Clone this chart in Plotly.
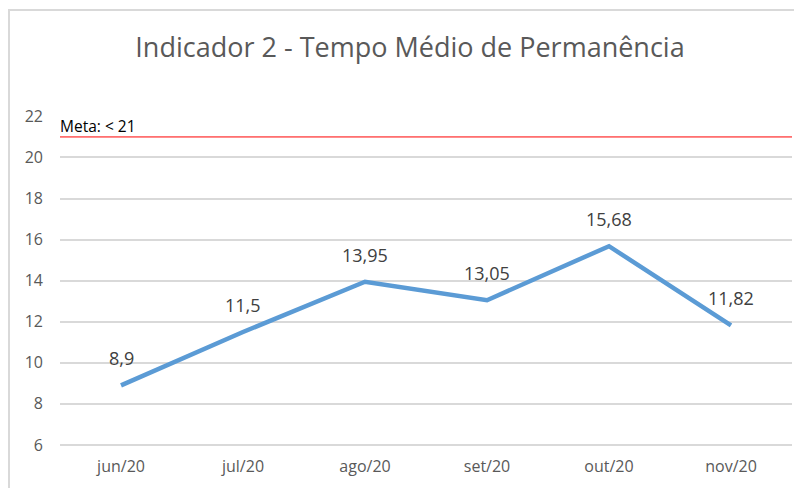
import plotly.graph_objects as go

categories = ["jun/20", "jul/20", "ago/20", "set/20", "out/20", "nov/20"]
values = [8.9, 11.5, 13.95, 13.05, 15.68, 11.82]
meta_value = 21
meta_label = "Meta: < 21"
title = "Indicador 2 - Tempo Médio de Permanência"
y_ticks = [6, 8, 10, 12, 14, 16, 18, 20, 22]

labels = [f"{v:g}".replace(".", ",") for v in values]

# page body has an 8px margin, so the figure is drawn 8px in from the top-left
W, H = 794, 480

fig = go.Figure()
fig.add_trace(go.Scatter(
    x=categories, y=values, mode="lines",
    line=dict(color="#5B9BD5", width=4.5),
    showlegend=False, hoverinfo="skip",
))

for c, v, t in zip(categories, values, labels):
    fig.add_annotation(x=c, y=v, text=t, showarrow=False, yshift=27,
                       xanchor="center", yanchor="middle",
                       font=dict(family="Open Sans", size=18, color="#404040"))

fig.add_shape(type="line", xref="paper", yref="y", x0=0, x1=1,
              y0=meta_value, y1=meta_value, line=dict(color="#FF0000", width=1))
fig.add_annotation(xref="paper", yref="y", x=0.0, y=meta_value, text=meta_label,
                   showarrow=False, xanchor="left", yanchor="bottom", yshift=-2, xshift=-2,
                   font=dict(family="Open Sans", size=15.5, color="#000000"))

# outer chart border (image is cropped at right/bottom)
plot_w = 732
plot_h = 331
fig.add_shape(type="rect", xref="paper", yref="paper",
              x0=-51 / plot_w, x1=1.1, y0=-0.3, y1=1 + 106 / plot_h,
              line=dict(color="#D9D9D9", width=2), layer="below")

fig.update_layout(
    width=W, height=H,
    margin=dict(l=52, r=10, t=108, b=41),
    paper_bgcolor="white", plot_bgcolor="white",
    title=dict(text=title, x=402 / W, xanchor="center", y=1 - 40 / H, yanchor="middle",
               font=dict(family="Open Sans", size=27, color="#595959")),
    xaxis=dict(type="category", showgrid=False, showline=False, ticks="",
               tickfont=dict(family="Open Sans", size=16, color="#595959"),
               range=[-0.5, 5.5], ticklabelstandoff=8),
    yaxis=dict(range=[5.9, 22.02], tickvals=y_ticks, showgrid=True, gridcolor="#D9D9D9",
               gridwidth=1.5, zeroline=False, showline=False, ticks="",
               tickfont=dict(family="Open Sans", size=16, color="#595959"),
               ticklabelstandoff=16),
)

fig.write_html("out.html")
